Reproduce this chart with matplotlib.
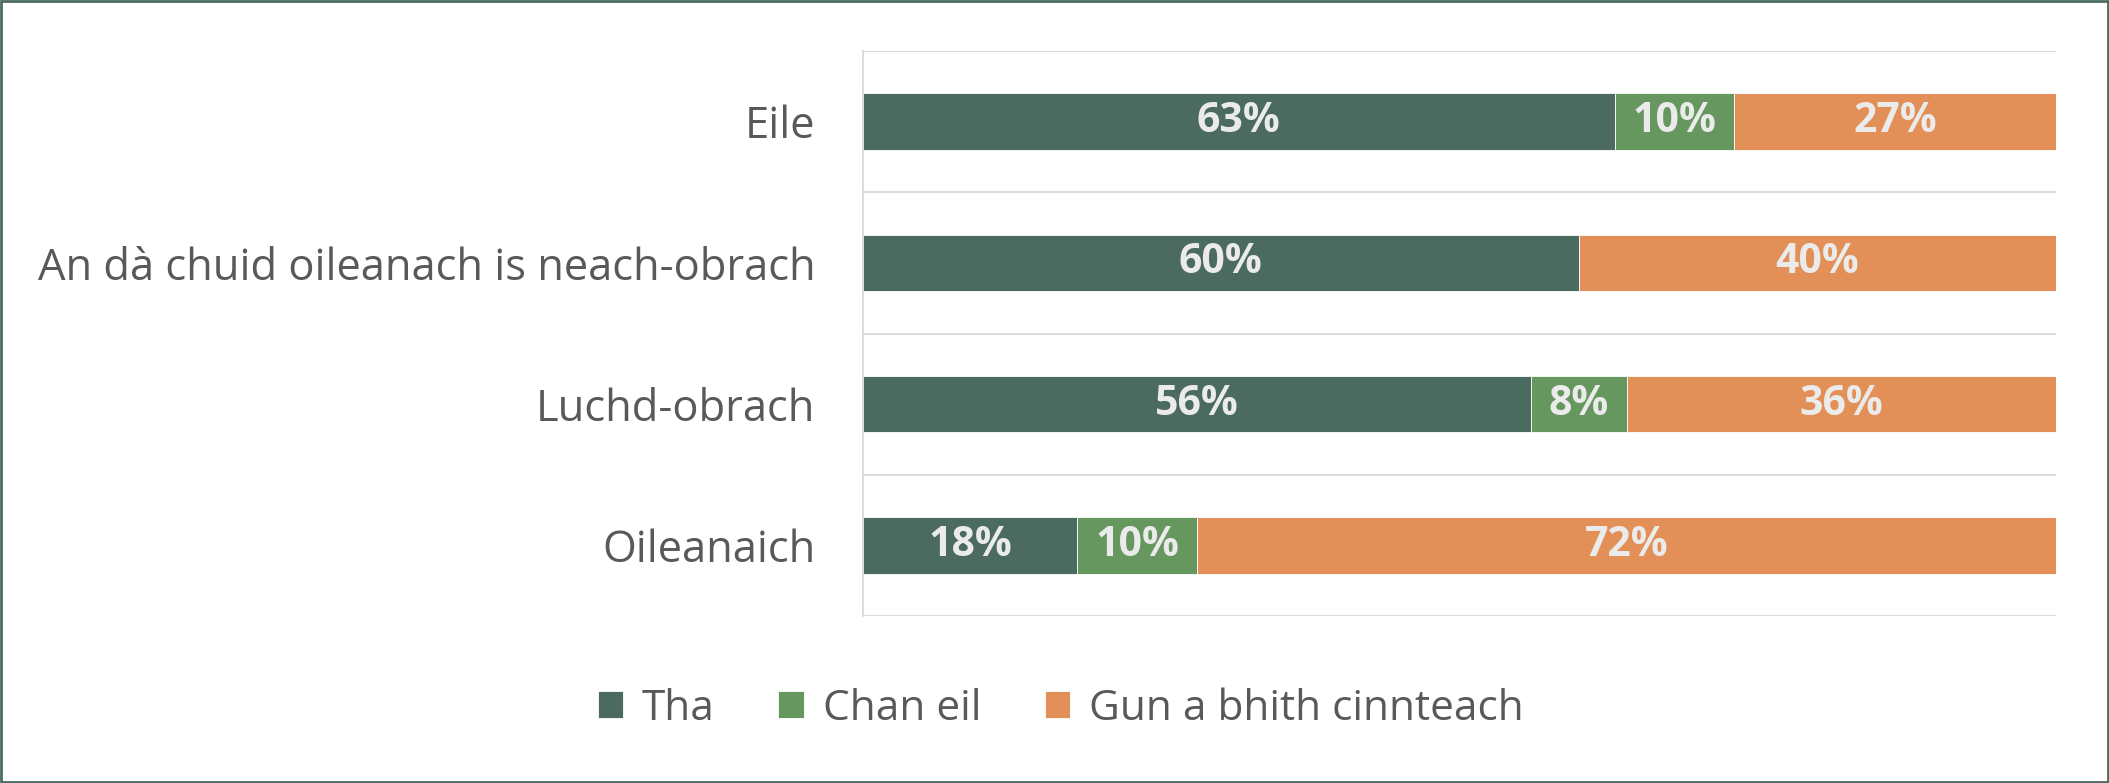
import matplotlib.pyplot as plt
import numpy as np
from matplotlib.patches import Rectangle

categories = ["Oileanaich", "Luchd-obrach",
              "An dà chuid oileanach is neach-obrach", "Eile"]
tha = [18, 56, 60, 63]
chan_eil = [10, 8, 0, 10]
gun_a_bhith = [72, 36, 40, 27]
series_names = ["Tha", "Chan eil", "Gun a bhith cinnteach"]
colours = ["#4B6A60", "#66975F", "#E39058"]

plt.rcParams['font.family'] = ['Open Sans', 'DejaVu Sans']

fig = plt.figure(figsize=(21.09, 7.83), dpi=100)
ax = fig.add_axes([0.409, 0.213, 0.566, 0.722])

y = np.arange(len(categories))
left = np.zeros(len(categories))
for vals, name, col in zip([tha, chan_eil, gun_a_bhith], series_names, colours):
    vals = np.array(vals, dtype=float)
    ax.barh(y, vals, left=left, height=0.4, color=col, label=name,
            edgecolor="white", linewidth=0.6)
    for yi, l, v in zip(y, left, vals):
        if v > 0:
            ax.text(l + v / 2, yi, f"{int(v)}%", ha="center", va="center",
                    color="#EBEBEB", fontsize=29.5, fontweight="bold")
    left += vals

ax.set_xlim(0, 100)
ax.set_ylim(-0.5, 3.5)
ax.set_yticks(y)
ax.set_yticklabels(categories, fontsize=31.3, color="#595959")
ax.set_xticks([])
ax.tick_params(axis="y", length=0, pad=34)
for b in np.arange(-0.5, 4, 1.0):
    ax.axhline(b, color="#D9D9D9", linewidth=1.3, zorder=0)
for s in ["top", "right", "bottom"]:
    ax.spines[s].set_visible(False)
ax.spines["left"].set_color("#D9D9D9")
ax.spines["left"].set_linewidth(1.3)

fig.legend(loc="center", bbox_to_anchor=(0.503, 0.095), ncol=3, frameon=False,
           fontsize=30.5, labelcolor="#595959", handlelength=0.6,
           handleheight=0.6, columnspacing=1.5, handletextpad=0.45)

fig.patches.append(Rectangle((0.0005, 0.001), 0.999, 0.998,
                             transform=fig.transFigure, fill=False,
                             edgecolor="#4B6A60", linewidth=2))

fig.savefig("out.png", dpi=100)
